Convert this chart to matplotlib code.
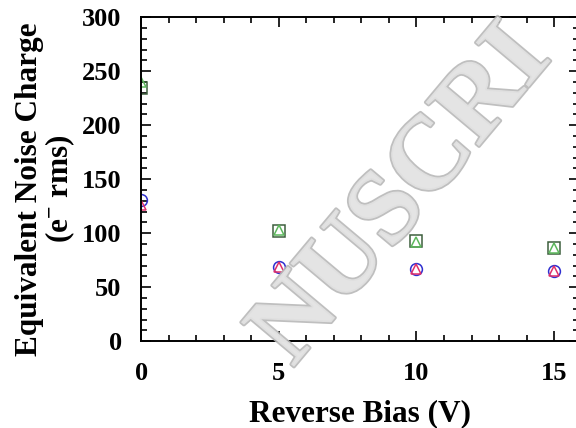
import matplotlib
matplotlib.use("Agg")
import matplotlib.pyplot as plt
import matplotlib.patheffects as pe
from matplotlib.ticker import MultipleLocator

plt.rcParams['font.family'] = ['Liberation Serif', 'DejaVu Serif']
plt.rcParams['font.weight'] = 'bold'
plt.rcParams['axes.labelweight'] = 'bold'
plt.rcParams['mathtext.fontset'] = 'custom'
plt.rcParams['mathtext.rm'] = 'Liberation Serif:bold'
plt.rcParams['mathtext.bf'] = 'Liberation Serif:bold'
plt.rcParams['mathtext.default'] = 'bf'

# reverse bias (V)
bias = [0, 5, 10, 15]

# equivalent noise charge (e- rms), four measurement sets
enc_square = [234, 102, 93, 86]
enc_tri_green = [240, 103, 92, 86]
enc_circle = [131, 69, 67, 65]
enc_tri_red = [126, 69, 67, 65]

fig = plt.figure(figsize=(5.76, 4.28), dpi=100)
ax = fig.add_axes([0.245, 0.203, 0.76, 0.757])

ms = 8.5
ax.plot(bias, enc_square, 's', ms=ms, mfc='none', mec='#3d5f3d', mew=1.1)
ax.plot(bias, enc_tri_green, '^', ms=ms - 2, mfc='none', mec='#5cb85c', mew=1.1)
ax.plot(bias, enc_circle, 'o', ms=ms, mfc='none', mec='#3030d0', mew=1.1)
ax.plot(bias, enc_tri_red, '^', ms=ms - 2, mfc='none', mec='#e0306a', mew=1.1)

ax.set_xlim(0, 15.9)
ax.set_ylim(0, 300)
ax.xaxis.set_major_locator(MultipleLocator(5))
ax.xaxis.set_minor_locator(MultipleLocator(1))
ax.yaxis.set_major_locator(MultipleLocator(50))
ax.yaxis.set_minor_locator(MultipleLocator(10))
ax.tick_params(which='both', direction='in', top=True, right=True, width=1.2)
ax.tick_params(which='major', length=7, labelsize=19)
ax.tick_params(axis='x', which='major', pad=15)
ax.tick_params(axis='y', which='major', pad=14)
ax.tick_params(which='minor', length=4)
for s in ax.spines.values():
    s.set_linewidth(1.4)

ax.set_xlabel('Reverse Bias (V)', fontsize=22.5, fontweight='bold', labelpad=10)
ax.set_ylabel('Equivalent Noise Charge\n(e$^{\\mathbf{-}}$ rms)', fontsize=22.5,
              fontweight='bold', linespacing=1.0)
ax.yaxis.set_label_coords(-0.146, 0.47)

# "accepted manuscript" watermark, only the visible part of it
fig.text(0.70, 0.54, 'NUSCRI', fontsize=76, rotation=50, color='#e4e4e4',
         ha='center', va='center', alpha=0.9, zorder=10,
         path_effects=[pe.withStroke(linewidth=2.5, foreground='#b8b8b8')])

fig.savefig('out.png', dpi=100)
